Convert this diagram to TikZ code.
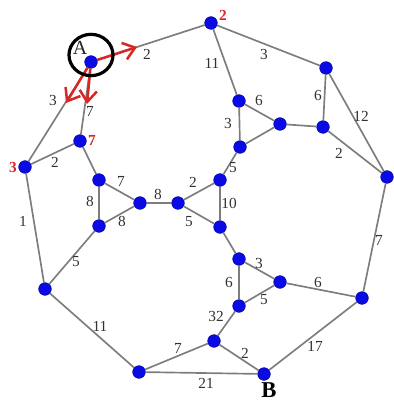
\documentclass[tikz,border=0pt]{standalone}
\usepackage{fontspec}
\setmainfont{Liberation Serif}
\usetikzlibrary{arrows.meta,shapes.geometric}
\definecolor{edgegray}{RGB}{125,125,125}
\definecolor{nodeblue}{RGB}{10,10,230}
\definecolor{lblred}{RGB}{215,40,40}
\definecolor{lblgray}{RGB}{50,50,50}
\begin{document}
\begin{tikzpicture}[x=0.75pt,y=-0.75pt,
  vtx/.style={circle,fill=nodeblue,draw=nodeblue!70!black,line width=0.4pt,inner sep=0pt,minimum size=9.5pt},
  edge/.style={draw=edgegray,line width=1.25pt},
  wt/.style={font=\fontsize{11.5}{13}\selectfont,text=lblgray,inner sep=0pt},
  rlab/.style={font=\fontsize{11.5}{13}\selectfont\bfseries,text=lblred,inner sep=0pt},
  redarrow/.style={draw=lblred,line width=1.9pt,-{Straight Barb[length=8.5pt,width=13pt,line width=1.9pt]}}]
\useasboundingbox (0,0) rectangle (393,402);
% vertices
\node[vtx] (A) at (91,62) {};
\node[vtx] (T) at (211,23) {};
\node[vtx] (S) at (80,141) {};
\node[vtx] (L) at (25,167) {};
\node[vtx] (TR) at (326,68) {};
\node[vtx] (R) at (387,177) {};
\node[vtx] (U1) at (239,101) {};
\node[vtx] (U2) at (280,124) {};
\node[vtx] (U3) at (323,127) {};
\node[vtx] (U4) at (240,147) {};
\node[vtx] (M1) at (220,180) {};
\node[vtx] (ML1) at (99,180) {};
\node[vtx] (ML2) at (140,203) {};
\node[vtx] (MR1) at (178,203) {};
\node[vtx] (ML3) at (99,226) {};
\node[vtx] (M2) at (220,227) {};
\node[vtx] (D1) at (239,259) {};
\node[vtx] (D2) at (280,282) {};
\node[vtx] (D3) at (239,306) {};
\node[vtx] (DR) at (362,298) {};
\node[vtx] (DL) at (45,289) {};
\node[vtx] (BL) at (139,372) {};
\node[vtx] (D4) at (214,341) {};
\node[vtx] (B) at (264,374) {};
% edges
\path[edge] (A) -- (T);
\path[edge] (A) -- (L);
\path[edge] (A) -- (S);
\path[edge] (S) -- (L);
\path[edge] (L) -- (DL);
\path[edge] (S) -- (ML1);
\path[edge] (ML1) -- (ML3);
\path[edge] (ML1) -- (ML2);
\path[edge] (ML3) -- (ML2);
\path[edge] (ML2) -- (MR1);
\path[edge] (MR1) -- (M1);
\path[edge] (MR1) -- (M2);
\path[edge] (M1) -- (M2);
\path[edge] (M1) -- (U4);
\path[edge] (ML3) -- (DL);
\path[edge] (DL) -- (BL);
\path[edge] (BL) -- (D4);
\path[edge] (BL) -- (B);
\path[edge] (D4) -- (B);
\path[edge] (D4) -- (D3);
\path[edge] (D3) -- (D1);
\path[edge] (D1) -- (D2);
\path[edge] (D3) -- (D2);
\path[edge] (D2) -- (DR);
\path[edge] (DR) -- (B);
\path[edge] (DR) -- (R);
\path[edge] (M2) -- (D1);
\path[edge] (T) -- (U1);
\path[edge] (T) -- (TR);
\path[edge] (TR) -- (U3);
\path[edge] (TR) -- (R);
\path[edge] (U3) -- (R);
\path[edge] (U1) -- (U2);
\path[edge] (U1) -- (U4);
\path[edge] (U4) -- (U2);
\path[edge] (U2) -- (U3);
% red arrows
\coordinate (a1) at (137,47);
\coordinate (a2) at (66,103);
\coordinate (a3) at (87,104);
\draw[redarrow] (A) -- (a1);
\draw[redarrow] (A) -- (a2);
\draw[redarrow] (A) -- (a3);
% circle around A
\node[draw=black,line width=2.4pt,ellipse,minimum width=33pt,minimum height=31pt,inner sep=0pt] (circ) at (91,55) {};
% weights
\node[wt] (w1) at (147,54) {2};
\node[wt] (w2) at (53,101) {3};
\node[wt] (w3) at (90,111) {7};
\node[wt] (w4) at (55,162) {2};
\node[wt] (w5) at (23,221) {1};
\node[wt] (w6) at (121,181) {7};
\node[wt] (w7) at (90,201) {8};
\node[wt] (w8) at (122,221) {8};
\node[wt] (w9) at (158,194) {8};
\node[wt] (w10) at (193,182) {2};
\node[wt] (w11) at (189,222) {5};
\node[wt] (w12) at (229,203) {10};
\node[wt] (w13) at (233,168) {5};
\node[wt] (w14) at (76,262) {5};
\node[wt] (w15) at (100,326) {11};
\node[wt] (w16) at (178,348) {7};
\node[wt] (w17) at (206,383) {21};
\node[wt] (w18) at (245,353) {2};
\node[wt] (w19) at (216,316) {32};
\node[wt] (w20) at (229,282) {6};
\node[wt] (w21) at (259,263) {3};
\node[wt] (w22) at (264,300) {5};
\node[wt] (w23) at (318,282) {6};
\node[wt] (w24) at (315,346) {17};
\node[wt] (w25) at (379,240) {7};
\node[wt] (w26) at (212,63) {11};
\node[wt] (w27) at (264,55) {3};
\node[wt] (w28) at (318,96) {6};
\node[wt] (w29) at (361,116) {12};
\node[wt] (w30) at (339,153) {2};
\node[wt] (w31) at (259,101) {6};
\node[wt] (w32) at (228,124) {3};
% red labels
\node[rlab] (r1) at (223,15) {2};
\node[rlab] (r2) at (92,140) {7};
\node[rlab] (r3) at (13,167) {3};
% A and B
\node[font=\fontsize{15}{17}\selectfont,inner sep=0pt,text=black!85] (lA) at (80,48) {A};
\node[font=\fontsize{17}{19}\selectfont\bfseries,inner sep=0pt] (lB) at (269,390) {B};
\end{tikzpicture}
\end{document}
